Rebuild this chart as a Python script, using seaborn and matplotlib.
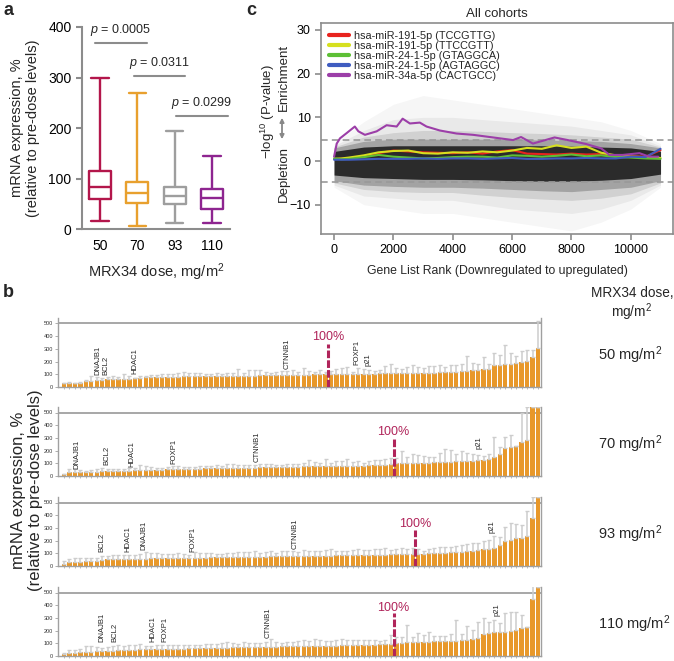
import numpy as np
import pandas as pd
import matplotlib
matplotlib.use("Agg")
import matplotlib.pyplot as plt
import seaborn as sns
from matplotlib.lines import Line2D

sns.set_style("ticks")
plt.rcParams["font.family"] = ["Liberation Sans", "DejaVu Sans"]
plt.rcParams["mathtext.fontset"] = "custom"
plt.rcParams["mathtext.rm"] = "Liberation Sans"
plt.rcParams["mathtext.it"] = "Liberation Sans:italic"
plt.rcParams["mathtext.bf"] = "Liberation Sans:bold"

# ---------------- DATA ----------------
# panel a: box summary (min, q1, median, q3, max) per dose
doses = ["50", "70", "93", "110"]
box_min = [16, 6, 12, 12]
box_q1 = [60, 51, 50, 40]
box_med = [84, 71, 65, 61]
box_q3 = [115, 93, 84, 79]
box_max = [300, 270, 195, 145]
pvals = ["0.0005", "0.0311", "0.0299"]

# panel b: per dose bar values (% of pre-dose) and upper error
row_doses = ["50", "70", "93", "110"]
vals_50 = [28, 28, 30, 28, 45, 50, 55, 55, 60, 60, 62, 62, 65, 68, 70, 75, 75, 78, 80, 80,
           82, 82, 85, 85, 85, 85, 85, 85, 88, 88, 88, 88, 88, 90, 90, 90, 92, 92, 93, 95,
           95, 95, 95, 97, 98, 98, 100, 100, 100,
           100, 100, 100, 102, 102, 102, 103, 105, 105, 107, 108, 108, 110, 110, 110, 110, 110, 110, 112, 112,
           115, 118, 120, 122, 125, 128, 130, 135, 140, 145, 170, 172, 178, 180, 188, 195, 205, 235, 310]
err_50 = [5, 8, 4, 15, 10, 35, 20, 15, 20, 30, 15, 40, 25, 5, 15, 10, 20, 15, 20, 25,
          20, 30, 30, 25, 25, 25, 20, 15, 20, 15, 20, 25, 50, 20, 40, 45, 40, 25, 20, 25,
          30, 30, 35, 20, 50, 25, 20, 30, 20,
          25, 40, 50, 55, 20, 50, 40, 30, 20, 25, 60, 70, 40, 30, 50, 60, 45, 40, 50, 55,
          60, 40, 50, 55, 60, 120, 60, 50, 100, 40, 95, 80, 155, 85, 60, 85, 90, 55, 210]
vals_70 = [12, 28, 28, 28, 30, 30, 35, 38, 38, 40, 40, 42, 42, 45, 48, 48, 50, 50, 50, 52,
           52, 55, 55, 55, 58, 58, 60, 60, 60, 62, 62, 62, 65, 65, 65, 65, 68, 68, 70, 70,
           70, 72, 72, 72, 75, 75, 75, 75, 78, 78, 78, 80, 80, 80, 82, 82, 85, 85, 88, 90, 92,
           100, 100, 102, 102, 105, 105, 105, 108, 108, 110, 112, 115, 118, 120, 122, 125, 128, 135,
           150, 175, 220, 230, 235, 265, 285, 540, 540]
err_70 = [5, 25, 28, 20, 10, 15, 20, 25, 20, 15, 12, 10, 20, 15, 35, 30, 20, 15, 15, 20,
          25, 20, 15, 15, 15, 20, 15, 20, 25, 20, 30, 30, 25, 20, 25, 20, 25, 30, 25, 20,
          15, 25, 20, 25, 30, 50, 35, 25, 55, 25, 40, 40, 55, 30, 40, 20, 35, 40, 40, 45, 50,
          40, 100, 50, 70, 60, 50, 45, 40, 70, 100, 90, 60, 80, 60, 50, 40, 30, 40,
          160, 55, 85, 90, 0, 235, 255, 0, 0]
vals_93 = [15, 32, 35, 35, 38, 38, 40, 48, 52, 55, 55, 55, 58, 58, 58, 58, 60, 60, 62, 62,
           62, 65, 65, 65, 65, 65, 66, 68, 68, 68, 70, 70, 70, 72, 72, 72, 72, 72, 75, 75,
           75, 75, 78, 78, 80, 80, 80, 82, 82, 82, 85, 85, 85, 85, 88, 88, 88, 90, 90, 90,
           92, 92, 93, 95, 95,
           98, 98, 100, 100, 102, 105, 108, 110, 112, 115, 120, 125, 130, 135, 140, 165, 200, 205,
           220, 222, 240, 375, 540]
err_93 = [25, 25, 25, 30, 25, 25, 25, 30, 30, 35, 35, 30, 25, 30, 40, 50, 45, 40, 30, 30,
          30, 35, 30, 25, 45, 40, 35, 35, 30, 30, 35, 35, 40, 35, 40, 45, 30, 40, 45, 30,
          40, 45, 40, 35, 45, 40, 40, 40, 45, 50, 30, 30, 35, 40, 45, 40, 35, 45, 40, 50,
          35, 45, 50, 40, 45,
          35, 20, 35, 45, 50, 45, 40, 50, 55, 60, 65, 60, 70, 70, 95, 65, 110, 135,
          110, 100, 195, 170, 0]
vals_110 = [12, 22, 25, 28, 32, 35, 38, 40, 42, 42, 45, 45, 48, 50, 52, 52, 52, 55, 55, 55,
            58, 58, 58, 60, 60, 60, 62, 62, 65, 65, 65, 68, 68, 68, 70, 70, 70, 72, 72, 72,
            75, 75, 75, 78, 78, 78, 80, 80, 80, 82, 82, 85, 85, 85, 88, 88, 90, 90, 92, 95, 97,
            100, 105, 108, 110, 110, 112, 112, 115, 115, 118, 120, 122, 125, 128, 132, 140, 175,
            185, 188, 188, 190, 195, 205, 220, 225, 450, 540]
err_110 = [15, 25, 20, 30, 45, 40, 35, 20, 30, 40, 45, 30, 40, 40, 45, 30, 30, 35, 30, 30,
           30, 25, 30, 30, 30, 25, 30, 35, 30, 35, 45, 35, 30, 40, 30, 30, 35, 40, 60, 40,
           30, 35, 35, 40, 45, 40, 55, 45, 40, 40, 45, 45, 40, 40, 35, 35, 35, 35, 30, 30, 70,
           50, 45, 135, 40, 75, 50, 75, 45, 40, 40, 55, 165, 50, 110, 70, 130, 125,
           85, 95, 75, 145, 155, 145, 100, 0, 110, 0]
row_vals = [vals_50, vals_70, vals_93, vals_110]
row_errs = [err_50, err_70, err_93, err_110]
n_below_100 = [49, 61, 65, 61]
gene_names = ["DNAJB1", "BCL2", "HDAC1", "FOXP1", "CTNNB1", "p21"]

# panel c
rank_grid = [0, 250, 500, 1000, 1500, 2000, 2500, 3000, 3500, 4000, 4500, 5000,
             5500, 6000, 6500, 7000, 7500, 8000, 8500, 9000, 9500, 10000, 10500, 11000]
mir_labels = ["hsa-miR-191-5p (TCCGTTG)", "hsa-miR-191-5p (TTCCGTT)",
              "hsa-miR-24-1-5p (GTAGGCA)", "hsa-miR-24-1-5p (AGTAGGC)",
              "hsa-miR-34a-5p (CACTGCC)"]
mir_red = [0.5, 0.5, 0.6, 1.0, 1.8, 2.4, 2.2, 2.0, 1.9, 1.8, 2.0, 1.7, 2.2, 2.5, 1.7, 1.6, 1.5, 1.7, 1.5, 1.6, 1.2, 1.1, 1.0, 2.5]
mir_yellow = [0.5, 0.6, 0.8, 1.3, 2.0, 2.3, 2.4, 1.8, 1.7, 2.0, 1.9, 2.2, 2.0, 2.4, 3.0, 2.8, 3.6, 3.0, 3.3, 1.9, 1.3, 1.0, 0.9, 0.7]
mir_green = [0.6, 0.4, 0.5, 0.9, 1.4, 1.0, 0.8, 0.6, 0.7, 0.9, 1.0, 1.0, 0.8, 1.3, 1.2, 1.0, 1.2, 1.5, 1.1, 1.3, 0.9, 0.8, 0.6, 0.5]
mir_blue = [0.3, 0.3, 0.3, 0.4, 0.5, 0.5, 0.5, 0.6, 0.5, 0.6, 0.6, 0.5, 0.6, 0.7, 0.5, 0.5, 0.6, 0.6, 0.7, 0.6, 0.6, 1.0, 0.9, 2.8]
purple_rank = [0, 90, 200, 425, 700, 820, 1040, 1435, 1770, 2110, 2310, 2555, 2890, 3115,
               3560, 4125, 4685, 5360, 6030, 6300, 6700, 7430, 7875, 8490, 9000, 9280,
               9720, 10290, 10620, 10920]
mir_purple = [1.0, 4.0, 5.2, 6.4, 7.9, 6.8, 6.0, 6.8, 8.2, 7.9, 9.7, 8.6, 8.8, 7.9,
              7.0, 6.3, 6.0, 5.4, 4.8, 5.5, 4.0, 5.4, 4.8, 3.9, 2.9, 1.4,
              1.4, 1.8, 1.0, 1.0]
# background cloud envelope of all other motifs (nested density bands)
env_rank = [0, 1000, 2000, 3000, 4000, 5000, 6000, 7000, 8000, 9000, 10000, 11000]
band1_hi = [4.0, 9.0, 13.0, 15.0, 14.0, 13.0, 12.0, 11.0, 10.0, 9.0, 7.0, 4.0]
band1_lo = [-6.0, -10.0, -11.0, -12.0, -12.0, -13.0, -14.0, -15.0, -16.0, -14.0, -11.0, -6.0]
band2_hi = [3.5, 7.0, 9.5, 10.0, 10.0, 9.5, 9.0, 8.5, 8.0, 7.0, 6.0, 3.5]
band2_lo = [-5.5, -8.0, -8.5, -9.0, -9.0, -10.0, -11.0, -11.5, -12.0, -11.0, -9.0, -5.5]
band3_hi = [3.2, 5.5, 6.5, 7.0, 7.0, 6.8, 6.5, 6.3, 6.0, 5.5, 5.0, 3.2]
band3_lo = [-5.0, -6.5, -7.0, -7.2, -7.2, -7.8, -8.3, -8.7, -9.0, -8.5, -7.5, -5.0]
band4_hi = [3.0, 4.5, 5.0, 5.0, 5.0, 5.0, 5.0, 4.8, 4.7, 4.5, 4.0, 3.0]
band4_lo = [-4.5, -5.5, -5.8, -6.0, -6.0, -6.2, -6.5, -6.8, -7.0, -6.5, -6.0, -4.5]
core_hi = [2.2, 3.2, 3.5, 3.5, 3.5, 3.5, 3.5, 3.5, 3.4, 3.2, 3.0, 2.2]
core_lo = [-3.2, -3.8, -4.0, -4.2, -4.2, -4.3, -4.5, -4.6, -4.6, -4.4, -4.0, -3.0]

# ---------------- LAYOUT / STYLE ----------------
W, H = 674, 661
fig = plt.figure(figsize=(W / 100, H / 100), dpi=100)
GRAY = "#8C8C8C"
ORANGE = "#E8982A"
CRIMSON = "#B0245A"
box_colors = ["#B3164B", "#E8A02E", "#9E9E9E", "#8E2590"]
gene_x = [[6.3, 7.6, 13.0, 53.7, 40.9, 55.8],
          [2.3, 7.8, 12.4, 20.1, 35.4, 76.2],
          [14.7, 6.9, 11.7, 23.7, 42.4, 78.6],
          [6.9, 9.4, 16.4, 18.5, 37.5, 79.5]]
label_y = [[95, 95, 100, 175, 140, 162],
           [58, 85, 71, 98, 111, 212],
           [126, 108, 113, 108, 134, 258],
           [114, 114, 114, 114, 145, 317]]
line_top = [340, 288, 283, 335]
pct_y = [392, 349, 327, 378]


def ax_px(x0, y0, x1, y1):
    return fig.add_axes([x0 / W, 1 - y1 / H, (x1 - x0) / W, (y1 - y0) / H])


# ---------------- PANEL A ----------------
axa = ax_px(82, 27, 230, 229)
rows = []
for d, a, b, c, e, f in zip(doses, box_min, box_q1, box_med, box_q3, box_max):
    for v in (a, b, c, e, f):
        rows.append({"dose": d, "value": v})
dfa = pd.DataFrame(rows)
sns.boxplot(data=dfa, x="dose", y="value", hue="dose", order=doses, hue_order=doses,
            palette=box_colors, fill=False, whis=(0, 100), width=0.58, linewidth=1.7,
            capwidths=0.46, legend=False, ax=axa)
axa.set_xlim(-0.48, 3.48)
axa.set_ylim(0, 400)
axa.set_yticks([0, 100, 200, 300, 400])
for s in ["top", "right"]:
    axa.spines[s].set_visible(False)
for s in ["left", "bottom"]:
    axa.spines[s].set_color(GRAY)
    axa.spines[s].set_linewidth(1.5)
axa.tick_params(axis="both", colors=GRAY, labelcolor="black", labelsize=10, width=1.5, length=4)
axa.tick_params(axis="x", length=0, pad=7)
axa.set_xlabel("MRX34 dose, mg/m$^2$", fontsize=10.5, labelpad=6)
axa.set_ylabel("mRNA expression, %\n(relative to pre-dose levels)", fontsize=10.5, labelpad=6,
               linespacing=1.15)
pbars = [(-0.14, 1.27, 368), (0.9, 2.28, 303), (2.03, 3.43, 224)]
for (x0, x1, yy), pv in zip(pbars, pvals):
    axa.plot([x0, x1], [yy, yy], color=GRAY, lw=1.5, clip_on=False)
    axa.text((x0 + x1) / 2, yy + 10, f"$p$ = {pv}", ha="center", va="bottom", fontsize=9)

# ---------------- PANEL C ----------------
axc = ax_px(321, 23, 673, 234)
for lo, hi, col, al in [(band1_lo, band1_hi, "#000000", 0.035),
                        (band2_lo, band2_hi, "#000000", 0.05),
                        (band3_lo, band3_hi, "#000000", 0.10),
                        (band4_lo, band4_hi, "#000000", 0.22),
                        (core_lo, core_hi, "#1a1a1a", 0.88)]:
    axc.fill_between(env_rank, lo, hi, color=col, alpha=al, lw=0)
axc.axhline(4.8, color="#999999", lw=1.2, ls=(0, (4, 2.5)))
axc.axhline(-4.7, color="#999999", lw=1.2, ls=(0, (4, 2.5)))
mir_colors = ["#E8231E", "#D6E01F", "#5DBF35", "#3F5CC0", "#9C3EA8"]
grid_series = [mir_red, mir_yellow, mir_green, mir_blue]
ranks_all = rank_grid * 4 + purple_rank
vals_all = sum(grid_series, []) + mir_purple
mir_all = sum([[lab] * len(rank_grid) for lab in mir_labels[:4]], []) + [mir_labels[4]] * len(purple_rank)
dfc = pd.DataFrame({"rank": ranks_all, "value": vals_all, "mir": mir_all})
sns.lineplot(data=dfc, x="rank", y="value", hue="mir", hue_order=mir_labels,
             palette=dict(zip(mir_labels, mir_colors)), linewidth=1.5, legend=False,
             estimator=None, sort=False, ax=axc)
axc.set_xlim(-440, 11420)
axc.set_ylim(-16.7, 31.6)
axc.set_xticks([0, 2000, 4000, 6000, 8000, 10000])
axc.set_yticks([-10, 0, 10, 20, 30])
axc.set_yticklabels(["\u221210", "0", "10", "20", "30"])
for s in axc.spines.values():
    s.set_color(GRAY)
    s.set_linewidth(1.2)
axc.tick_params(axis="both", colors=GRAY, labelcolor="black", labelsize=9, width=1.2, length=4)
axc.set_xlabel("Gene List Rank (Downregulated to upregulated)", fontsize=8.8, labelpad=6)
axc.set_ylabel("")
axc.set_title("All cohorts", fontsize=9.5, pad=4)
handles = [Line2D([0], [0], color=c, lw=3) for c in mir_colors]
axc.legend(handles, mir_labels, loc="upper left", bbox_to_anchor=(0.0, 1.0), frameon=False,
           fontsize=7.8, handlelength=1.8, handletextpad=0.45, labelspacing=0.0,
           borderaxespad=0.35)
fig.text(268 / W, 1 - 112 / H, r"$\mathregular{-}$log$^{10}$ (P-value)", rotation=90,
         ha="center", va="center", fontsize=9.5)
fig.text(284 / W, 1 - 77 / H, "Enrichment", rotation=90, ha="center", va="center", fontsize=9.5)
fig.text(284 / W, 1 - 174 / H, "Depletion", rotation=90, ha="center", va="center", fontsize=9.5)
fig.add_artist(matplotlib.patches.FancyArrowPatch(
    (282 / W, 1 - 142 / H), (282 / W, 1 - 115 / H), transform=fig.transFigure,
    arrowstyle="<|-|>", mutation_scale=6, color="#888888", lw=1.3))

# ---------------- PANEL B ----------------
zeros_px = [387, 476, 566, 656]
pxu = 63.5 / 500.0
for r in range(4):
    vals = row_vals[r]
    errs = row_errs[r]
    n = len(vals)
    z = zeros_px[r]
    ax = ax_px(58, z - 545 * pxu, 541, z)
    idx = list(range(n))
    sns.barplot(x=idx, y=vals, color=ORANGE, saturation=1, width=0.8, native_scale=True,
                errorbar=None, ax=ax, linewidth=0)
    ax.errorbar(idx, vals, yerr=[[0] * n, errs], fmt="none", ecolor="#CDCDCD",
                elinewidth=1.1, capsize=1.1, capthick=1.0, zorder=1)
    ax.set_xlim(-1.1, n - 0.45)
    ax.set_ylim(0, 545)
    ax.set_yticks([0, 100, 200, 300, 400, 500])
    ax.set_xticks(idx)
    ax.set_xticklabels([])
    ax.axhline(500, color="#A0A0A0", lw=1.3, zorder=0.5)
    ax.spines["top"].set_visible(False)
    for s in ["left", "bottom", "right"]:
        ax.spines[s].set_color("#A0A0A0")
        ax.spines[s].set_linewidth(1.0)
    ax.tick_params(axis="y", colors="#A0A0A0", labelcolor="#333333", labelsize=4,
                   length=2, width=0.6, pad=1.5)
    ax.tick_params(axis="x", colors="#A0A0A0", length=1.5, width=0.5)
    ax.set_xlabel("")
    ax.set_ylabel("")
    for gname, gx, gy in zip(gene_names, gene_x[r], label_y[r]):
        ax.text(gx, gy, gname, rotation=90, ha="center", va="bottom", fontsize=5.5)
    xb = n_below_100[r] - 0.5
    ax.plot([xb, xb], [0, line_top[r]], color=CRIMSON, lw=2.2, dashes=(2.5, 0.7),
            solid_capstyle="butt", dash_capstyle="butt", zorder=3)
    ax.text(xb, pct_y[r], "100%", color=CRIMSON, ha="center", va="center", fontsize=9)
    fig.text(598 / W, 1 - (z - 32) / H, f"{row_doses[r]} mg/m$^2$", fontsize=10.5,
             ha="left", va="center")

fig.text(632 / W, 1 - 293 / H, "MRX34 dose,", fontsize=9.8, ha="center", va="center")
fig.text(632 / W, 1 - 312 / H, "mg/m$^2$", fontsize=9.8, ha="center", va="center")
fig.text(27 / W, 1 - 490 / H, "mRNA expression, %\n(relative to pre-dose levels)", rotation=90,
         ha="center", va="center", fontsize=12, linespacing=1.15)

# panel letters
fig.text(3 / W, 1 - 2 / H, "a", fontsize=13, fontweight="bold", ha="left", va="top")
fig.text(246 / W, 1 - 2 / H, "c", fontsize=13, fontweight="bold", ha="left", va="top")
fig.text(3 / W, 1 - 284 / H, "b", fontsize=13, fontweight="bold", ha="left", va="top")

fig.savefig("out.png", dpi=100)
